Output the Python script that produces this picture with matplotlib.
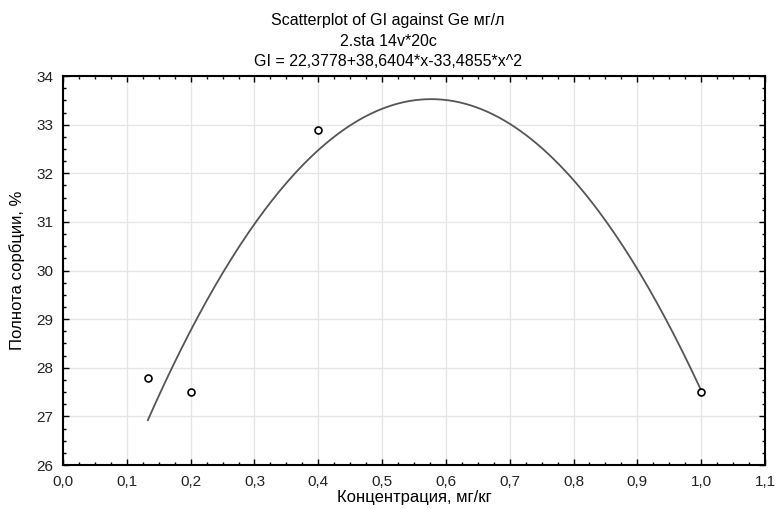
import numpy as np
import matplotlib.pyplot as plt
from matplotlib.ticker import MultipleLocator, FuncFormatter

plt.rcParams['font.family'] = ['Liberation Sans', 'DejaVu Sans']

# measured points
conc = [0.133, 0.2, 0.4, 1.0]
sorb = [27.8, 27.5, 32.9, 27.5]

# fitted quadratic coefficients from the title
b0, b1, b2 = 22.3778, 38.6404, -33.4855

fig = plt.figure(figsize=(7.76, 5.09), dpi=100)
ax = fig.add_axes([0.0812, 0.0864, 0.9046, 0.7642])

xs = np.linspace(min(conc), max(conc), 200)
ax.plot(xs, b0 + b1 * xs + b2 * xs**2, color='#555555', lw=1.3, zorder=3)
ax.plot(conc, sorb, 'o', mfc='white', mec='black', ms=5, mew=1.2, zorder=4)

ax.set_xlim(0, 1.1)
ax.set_ylim(26, 34)
ax.xaxis.set_major_locator(MultipleLocator(0.1))
ax.xaxis.set_minor_locator(MultipleLocator(0.025))
ax.yaxis.set_major_locator(MultipleLocator(1))
ax.yaxis.set_minor_locator(MultipleLocator(0.25))
ax.xaxis.set_major_formatter(FuncFormatter(lambda v, p: f'{v:.1f}'.replace('.', ',')))
ax.yaxis.set_major_formatter(FuncFormatter(lambda v, p: f'{v:.0f}'))

ax.tick_params(which='both', direction='in', top=True, right=True,
               color='black', labelsize=11, labelcolor='#222222')
ax.tick_params(which='major', length=4, width=1, pad=7)
ax.tick_params(which='minor', length=2.5, width=1)
ax.grid(True, which='major', color='#e6e6e6', lw=1)
for s in ax.spines.values():
    s.set_linewidth(1.5)

ax.set_xlabel('Концентрация, мг/кг', fontsize=12, labelpad=1)
ax.set_ylabel('Полнота сорбции, %', fontsize=12)
ax.yaxis.set_label_coords(-0.054, 0.5)

fig.text(0.5, 1 - 21 / 509, 'Scatterplot of GI against Ge мг/л', ha='center', va='center', fontsize=11.5)
fig.text(0.5, 1 - 41 / 509, '2.sta 14v*20c', ha='center', va='center', fontsize=11.5)
fig.text(0.5, 1 - 61 / 509, 'GI = 22,3778+38,6404*x-33,4855*x^2', ha='center', va='center', fontsize=11.5)

fig.savefig('out.png', dpi=100)
